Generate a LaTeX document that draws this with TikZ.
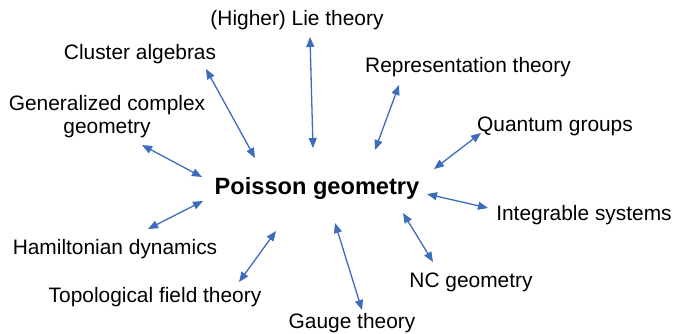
\documentclass[tikz,border=0pt]{standalone}
\usepackage{fontspec}
\setmainfont{Liberation Sans}
\usepackage{tikz}
\definecolor{linkblue}{RGB}{60, 108, 186}
\usetikzlibrary{arrows.meta}

\begin{document}
\begin{tikzpicture}[x=1pt, y=-1pt,
    topic/.style={inner sep=0pt, anchor=base, align=center, font=\fontsize{20.9}{22.5}\selectfont},
    centre/.style={inner sep=0pt, anchor=base, font=\fontsize{23.6}{28}\selectfont\bfseries},
    link/.style={{Triangle[length=10pt,width=8pt]}-{Triangle[length=10pt,width=8pt]}, line width=1.3pt, linkblue}
]
    \useasboundingbox (0,0) rectangle (676,333);

    \node[centre] (poisson) at (317,194) {Poisson geometry};

    \node[topic] (lie) at (297,25) {(Higher) Lie theory};
    \node[topic] (cluster) at (140,59) {Cluster algebras};
    \node[topic] (rep) at (468,72) {Representation theory};
    \node[topic] (gencplx) at (107,133) {Generalized complex\\geometry};
    \node[topic] (quantum) at (555,131) {Quantum groups};
    \node[topic] (integrable) at (584,220) {Integrable systems};
    \node[topic] (hamilton) at (115,254) {Hamiltonian dynamics};
    \node[topic] (nc) at (471,287) {NC geometry};
    \node[topic] (tft) at (155,302) {Topological field theory};
    \node[topic] (gauge) at (352,328) {Gauge theory};

    % arrow ends
    \coordinate (lie-a) at (310,37);   \coordinate (lie-b) at (313,148);
    \coordinate (cl-a) at (206,69);    \coordinate (cl-b) at (255,158);
    \coordinate (rep-a) at (399,85);   \coordinate (rep-b) at (375,150);
    \coordinate (gc-a) at (142,145);   \coordinate (gc-b) at (202,177);
    \coordinate (qg-a) at (481,133);   \coordinate (qg-b) at (434,169);
    \coordinate (is-a) at (488,208);   \coordinate (is-b) at (427,194);
    \coordinate (hd-a) at (148,229);   \coordinate (hd-b) at (203,201);
    \coordinate (nc-a) at (433,262);   \coordinate (nc-b) at (403,213);
    \coordinate (tf-a) at (239,282);   \coordinate (tf-b) at (276,231);
    \coordinate (ga-a) at (362,310);   \coordinate (ga-b) at (335,223);

    \draw[link] (lie-a) -- (lie-b);
    \draw[link] (cl-a) -- (cl-b);
    \draw[link] (rep-a) -- (rep-b);
    \draw[link] (gc-a) -- (gc-b);
    \draw[link] (qg-a) -- (qg-b);
    \draw[link] (is-a) -- (is-b);
    \draw[link] (hd-a) -- (hd-b);
    \draw[link] (nc-a) -- (nc-b);
    \draw[link] (tf-a) -- (tf-b);
    \draw[link] (ga-a) -- (ga-b);
\end{tikzpicture}
\end{document}
